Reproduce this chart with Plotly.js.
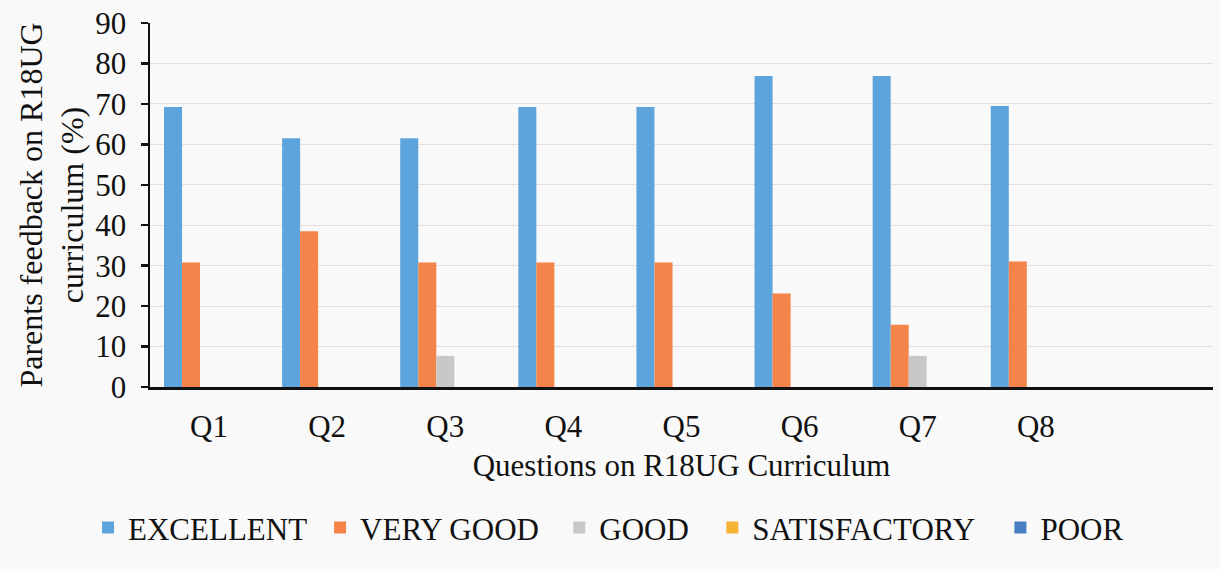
<!DOCTYPE html>
<html>
<head>
<meta charset="utf-8">
<script src="https://cdn.plot.ly/plotly-3.0.1.min.js"></script>
<style>html,body{margin:0;padding:0;background:#f9f9f9;}#chart{width:1220px;height:569px;}</style>
</head>
<body>
<div id="chart"></div>
<script>
const questions = ['Q1','Q2','Q3','Q4','Q5','Q6','Q7','Q8'];
const seriesNames = ['EXCELLENT','VERY GOOD','GOOD','SATISFACTORY','POOR'];
const excellent    = [69.2, 61.5, 61.5, 69.2, 69.2, 76.9, 76.9, 69.5];
const veryGood     = [30.8, 38.5, 30.8, 30.8, 30.8, 23.1, 15.4, 31.0];
const good         = [0, 0, 7.7, 0, 0, 0, 7.7, 0];
const satisfactory = [0, 0, 0, 0, 0, 0, 0, 0];
const poor         = [0, 0, 0, 0, 0, 0, 0, 0];
const colors = ['#5DA3DC','#F4844A','#C8C8C8','#F7B334','#4A7EC2'];

const allSeries = [excellent, veryGood, good, satisfactory, poor];
const font = "'Liberation Serif', 'Times New Roman', serif";
const legendIds = ['legend','legend2','legend3','legend4','legend5'];
const traces = allSeries.map((vals, i) => ({
  type: 'bar', name: seriesNames[i], x: questions, y: vals,
  legend: legendIds[i],
  marker: {color: colors[i], line: {width: 0}}
}));

// left-edge paper positions for each legend entry
const legendX = [-0.0583, 0.160, 0.385, 0.529, 0.800];

const layout = {
  width: 1220, height: 569,
  paper_bgcolor: '#f9f9f9', plot_bgcolor: '#f9f9f9',
  margin: {l: 150, r: 7, t: 23, b: 182, autoexpand: false},
  barmode: 'group', bargap: 0.237, bargroupgap: 0,
  font: {family: font, size: 31, color: '#111'},
  xaxis: {
    type: 'category', range: [-0.5, 8.5],
    showline: true, linecolor: '#111', linewidth: 2.5,
    ticks: '', showgrid: false, zeroline: false,
    ticklabelstandoff: 10,
    tickfont: {family: font, size: 31, color: '#111'},
    title: {text: 'Questions on R18UG Curriculum', standoff: 12, font: {family: font, size: 31, color: '#111'}}
  },
  yaxis: {
    range: [0, 90], dtick: 10, tick0: 0,
    showline: true, linecolor: '#111', linewidth: 2.5,
    ticks: 'outside', ticklen: 7, tickwidth: 2.5, tickcolor: '#111',
    showgrid: true, gridcolor: '#E8DCDF', gridwidth: 1, zeroline: false,
    ticklabelstandoff: 8,
    tickfont: {family: font, size: 31, color: '#111'},
    title: {text: 'Parents feedback on R18UG<br>curriculum (%)', standoff: 2, font: {family: font, size: 32, color: '#111'}}
  },
  showlegend: true
};
legendIds.forEach((id, i) => {
  layout[id] = {
    orientation: 'h', x: legendX[i], xanchor: 'left', y: -0.387, yanchor: 'middle',
    font: {family: font, size: 31, color: '#111'},
    bgcolor: 'rgba(0,0,0,0)', itemwidth: 30
  };
});

Plotly.newPlot('chart', traces, layout, {displayModeBar: false, staticPlot: true});
</script>
</body>
</html>
